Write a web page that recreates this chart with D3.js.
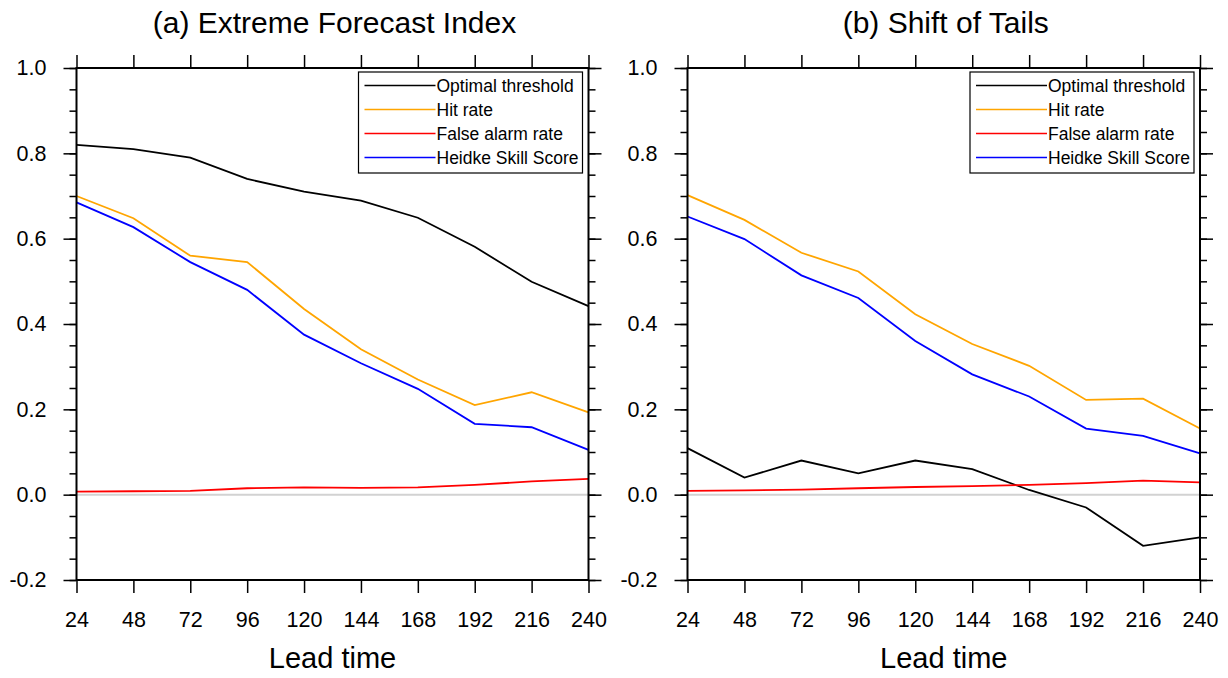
<!DOCTYPE html>
<html>
<head>
<meta charset="utf-8">
<script src="https://cdn.jsdelivr.net/npm/d3@7"></script>
<style>
  body { margin: 0; background: #fff; }
  svg { font-family: "Liberation Sans", Arial, Helvetica, sans-serif; }
  .axis path { display: none; }
  .axis line { stroke: #000; stroke-width: 1.5; }
  .axis text { font-size: 21.5px; fill: #000; }
</style>
</head>
<body>
<svg width="1228" height="678"></svg>
<script>
// lead times (hours) and y ticks
var leadTimes = [24, 48, 72, 96, 120, 144, 168, 192, 216, 240];
var yTicks = [-0.2, 0.0, 0.2, 0.4, 0.6, 0.8, 1.0];
var yMinorTicks = d3.range(-0.2, 1.0001, 0.05);

var seriesNames = ["Optimal threshold", "Hit rate", "False alarm rate", "Heidke Skill Score"];
var seriesColors = ["#000000", "#ffa500", "#ff0000", "#0000ff"];

// (a) Extreme Forecast Index
var efiThreshold = [0.82, 0.81, 0.79, 0.74, 0.71, 0.689, 0.649, 0.581, 0.499, 0.442];
var efiHit       = [0.70, 0.648, 0.56, 0.545, 0.435, 0.341, 0.270, 0.210, 0.240, 0.193];
var efiFalse     = [0.007, 0.008, 0.009, 0.015, 0.017, 0.016, 0.017, 0.023, 0.031, 0.037];
var efiHss       = [0.685, 0.627, 0.545, 0.48, 0.375, 0.308, 0.248, 0.166, 0.158, 0.105];

// (b) Shift of Tails
var sotThreshold = [0.109, 0.04, 0.08, 0.05, 0.08, 0.06, 0.011, -0.03, -0.12, -0.10];
var sotHit       = [0.702, 0.644, 0.567, 0.523, 0.423, 0.353, 0.302, 0.222, 0.225, 0.155];
var sotFalse     = [0.009, 0.01, 0.012, 0.015, 0.018, 0.02, 0.023, 0.027, 0.033, 0.029];
var sotHss       = [0.652, 0.599, 0.514, 0.461, 0.360, 0.282, 0.230, 0.155, 0.138, 0.097];

var svg = d3.select("svg");

var top0 = 68, bottom0 = 580;
var y = d3.scaleLinear().domain([-0.2, 1.0]).range([bottom0, top0]);

function drawPanel(left, right, title, series) {
  var x = d3.scaleLinear().domain([24, 240]).range([left, right]);
  var g = svg.append("g");

  // zero line
  g.append("line")
    .attr("x1", left).attr("x2", right)
    .attr("y1", y(0)).attr("y2", y(0))
    .attr("stroke", "#d2d2d2").attr("stroke-width", 2);

  // data lines
  var line = d3.line()
    .x(function(d, i) { return x(leadTimes[i]); })
    .y(function(d) { return y(d); });

  series.forEach(function(s, k) {
    g.append("path")
      .datum(s)
      .attr("d", line)
      .attr("fill", "none")
      .attr("stroke", seriesColors[k])
      .attr("stroke-width", 1.8);
  });

  // axes (ticks outward)
  g.append("g").attr("class", "axis")
    .attr("transform", "translate(" + left + ",0)")
    .call(d3.axisLeft(y).tickValues(yTicks).tickSize(13).tickPadding(17)
      .tickFormat(function(d) { return d3.format(".1f")(d).replace("−", "-"); }));
  g.append("g").attr("class", "axis")
    .attr("transform", "translate(" + left + ",0)")
    .call(d3.axisLeft(y).tickValues(yMinorTicks).tickSize(7).tickFormat(""));
  g.append("g").attr("class", "axis")
    .attr("transform", "translate(" + right + ",0)")
    .call(d3.axisRight(y).tickValues(yTicks).tickSize(13).tickFormat(""));
  g.append("g").attr("class", "axis")
    .attr("transform", "translate(" + right + ",0)")
    .call(d3.axisRight(y).tickValues(yMinorTicks).tickSize(7).tickFormat(""));
  g.append("g").attr("class", "axis")
    .attr("transform", "translate(0," + bottom0 + ")")
    .call(d3.axisBottom(x).tickValues(leadTimes).tickSize(13).tickPadding(18.5));
  g.append("g").attr("class", "axis")
    .attr("transform", "translate(0," + top0 + ")")
    .call(d3.axisTop(x).tickValues(leadTimes).tickSize(13).tickFormat(""));

  // frame
  g.append("rect")
    .attr("x", left).attr("y", top0)
    .attr("width", right - left).attr("height", bottom0 - top0)
    .attr("fill", "none").attr("stroke", "#000").attr("stroke-width", 2);

  // title
  g.append("text")
    .attr("x", (left + right) / 2 + 2).attr("y", 33)
    .attr("text-anchor", "middle")
    .attr("font-size", 30)
    .text(title);

  g.append("text")
    .attr("x", (left + right) / 2).attr("y", 668)
    .attr("text-anchor", "middle")
    .attr("font-size", 29)
    .text("Lead time");

  // legend
  var lx = right - 230, ly = 72;
  var lg = g.append("g").attr("transform", "translate(" + lx + "," + ly + ")");
  lg.append("rect")
    .attr("width", 224).attr("height", 101)
    .attr("fill", "#fff").attr("stroke", "#000").attr("stroke-width", 1.2);
  seriesNames.forEach(function(name, k) {
    var ry = 13.5 + k * 24;
    lg.append("line")
      .attr("x1", 6).attr("x2", 77)
      .attr("y1", ry).attr("y2", ry)
      .attr("stroke", seriesColors[k]).attr("stroke-width", 1.4);
    lg.append("text")
      .attr("x", 78).attr("y", ry + 6)
      .attr("font-size", 17.5)
      .text(name);
  });
}

drawPanel(76.5, 588.5, "(a) Extreme Forecast Index", [efiThreshold, efiHit, efiFalse, efiHss]);
drawPanel(687.5, 1200, "(b) Shift of Tails", [sotThreshold, sotHit, sotFalse, sotHss]);
</script>
</body>
</html>
